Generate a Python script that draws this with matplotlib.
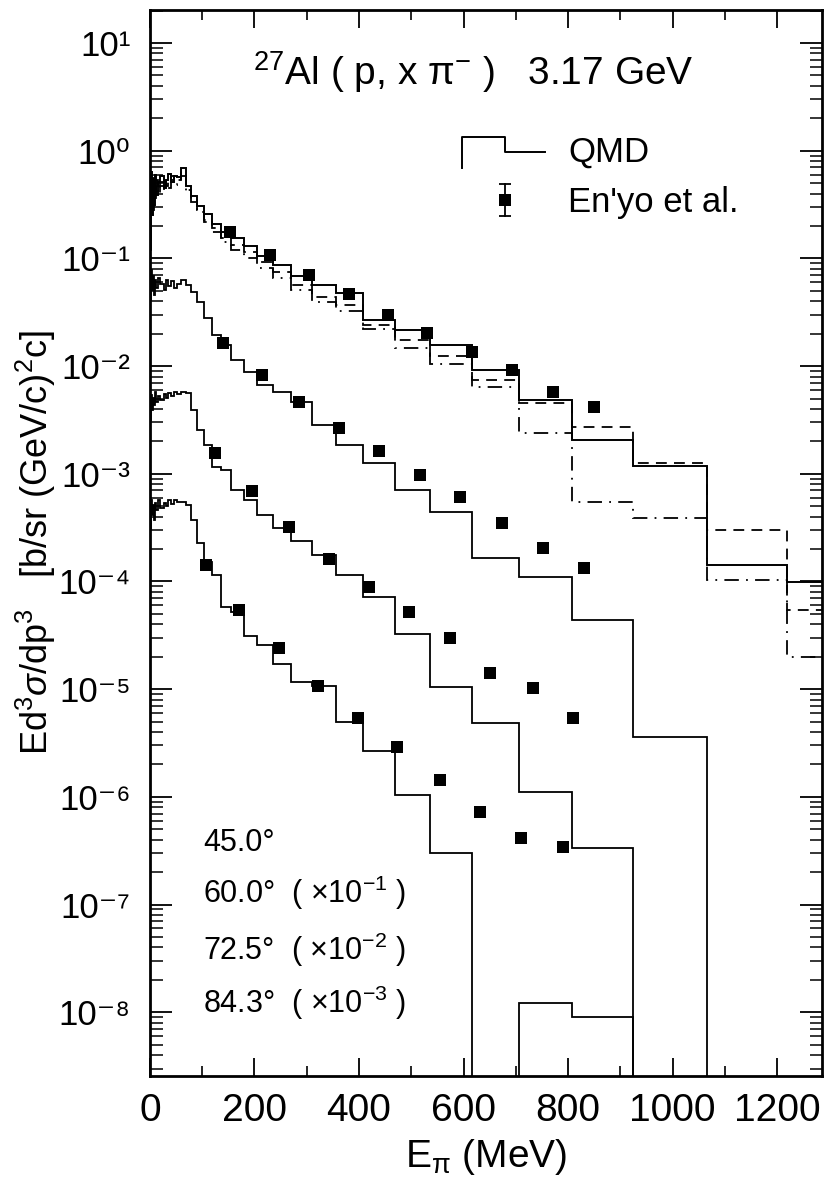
import matplotlib
matplotlib.use("Agg")
import matplotlib.pyplot as plt
from matplotlib.ticker import LogLocator, MultipleLocator, NullFormatter

plt.rcParams['font.family'] = ['Liberation Sans', 'DejaVu Sans']
plt.rcParams['mathtext.fontset'] = 'custom'
plt.rcParams['mathtext.rm'] = 'Liberation Sans'
plt.rcParams['mathtext.it'] = 'Liberation Sans:italic'
plt.rcParams['mathtext.bf'] = 'Liberation Sans:bold'
plt.rcParams['axes.unicode_minus'] = False

# QMD histogram bin edges (MeV)
EDGES = [0, 2, 4, 6, 8, 10, 12, 15, 20, 26, 30, 35, 40, 46, 52, 60, 69, 79, 90, 104,
         119, 136, 156, 179, 205, 236, 270, 310, 356, 408, 469, 536, 616, 706, 808, 924,
         1066, 1219, 1400]

# QMD, 45.0 deg (three variants: solid, dashed, dash-dot)
QMD_45 = [0.148, 0.634, 0.253, 0.535, 0.313, 0.595, 0.388, 0.512, 0.582, 0.450,
          0.535, 0.608, 0.512, 0.582, 0.570, 0.691, 0.470, 0.380, 0.307, 0.258,
          0.209, 0.176, 0.155, 0.130, 0.105, 0.0868, 0.0686, 0.0566, 0.0477, 0.0268,
          0.0216, 0.0157, 0.0092, 0.00484, 0.00206, 0.00118, 1.42e-4, 9.9e-5]
QMD_45_DASH = [0.184, 0.432, 0.349, 0.558, 0.388, 0.480, 0.535, 0.432, 0.512, 0.558,
               0.470, 0.535, 0.582, 0.512, 0.535, 0.634, 0.432, 0.349, 0.281, 0.227,
               0.191, 0.155, 0.133, 0.115, 0.0926, 0.0747, 0.0566, 0.0438, 0.0369, 0.0241,
               0.0175, 0.0124, 0.00743, 0.00454, 0.00272, 0.00126, 3.01e-4, 5.43e-5]
QMD_45_DASHDOT = [0.120, 0.349, 0.480, 0.281, 0.432, 0.364, 0.480, 0.388, 0.470, 0.432,
                  0.501, 0.450, 0.535, 0.480, 0.501, 0.582, 0.405, 0.334, 0.270, 0.218,
                  0.176, 0.142, 0.120, 0.101, 0.0814, 0.0658, 0.0509, 0.0394, 0.0325, 0.0221,
                  0.0147, 0.0105, 0.00639, 0.00239, 5.47e-4, 3.89e-4, 1.03e-4, 1.99e-5]

# QMD, 60.0 / 72.5 / 84.3 deg (already scaled by 1e-1, 1e-2, 1e-3)
QMD_60 = [0.0411, 0.078, 0.0509, 0.0686, 0.0457, 0.063, 0.0531, 0.0658, 0.0579, 0.0509,
          0.063, 0.0554, 0.0617, 0.0531, 0.0579, 0.063, 0.0566, 0.0488, 0.0394, 0.028,
          0.0194, 0.0157, 0.0114, 0.00881, 0.00668, 0.00575, 0.00464, 0.00284, 0.00185, 0.00126,
          7.07e-4, 4.42e-4, 1.65e-4, 1.10e-4, 4.39e-5, 3.6e-6, 0, 0]
QMD_72 = [0.00316, 0.00539, 0.00391, 0.00506, 0.00435, 0.00575, 0.00464, 0.00528, 0.00484, 0.00551,
          0.00506, 0.00563, 0.00528, 0.00575, 0.00551, 0.00575, 0.00563, 0.00391, 0.00255, 0.00185,
          0.00116, 0.00109, 7.07e-4, 5.71e-4, 4.14e-4, 3.14e-4, 2.38e-4, 1.76e-4, 1.15e-4, 7.18e-5,
          3.26e-5, 1.05e-5, 4.86e-6, 1.11e-6, 3.35e-7, 0, 0, 0]
QMD_84 = [3.01e-4, 5.71e-4, 4.14e-4, 5.13e-4, 3.72e-4, 5.36e-4, 4.61e-4, 5.71e-4, 4.81e-4, 5.36e-4,
          5.02e-4, 5.71e-4, 5.24e-4, 5.71e-4, 5.47e-4, 5.47e-4, 5.13e-4, 3.72e-4, 2.28e-4, 1.52e-4,
          1.15e-4, 5.8e-5, 5.21e-5, 3.12e-5, 2.57e-5, 1.71e-5, 1.17e-5, 1.07e-5, 4.96e-6, 2.67e-6,
          1.04e-6, 3.01e-7, 0, 1.22e-8, 9.05e-9, 0, 0, 0]

# En'yo et al. data
EXP_45_E = [153, 230, 304, 381, 456, 531, 616, 693, 771, 850]
EXP_45 = [0.176, 0.1075, 0.0701, 0.0467, 0.0298, 0.0203, 0.0135, 0.0092, 0.00575, 0.00417]
EXP_60_E = [140, 214, 285, 362, 438, 517, 593, 673, 752, 830]
EXP_60 = [0.0164, 0.00827, 0.00464, 0.00266, 0.00163, 9.75e-4, 6.09e-4, 3.49e-4, 2.05e-4, 1.33e-4]
EXP_72_E = [124, 195, 266, 343, 419, 496, 574, 651, 733, 810]
EXP_72 = [1.56e-3, 6.92e-4, 3.21e-4, 1.62e-4, 8.89e-5, 5.21e-5, 2.99e-5, 1.41e-5, 1.03e-5, 5.40e-6]
EXP_84_E = [107, 170, 247, 322, 398, 473, 555, 632, 710, 790]
EXP_84 = [1.42e-4, 5.43e-5, 2.41e-5, 1.07e-5, 5.40e-6, 2.91e-6, 1.44e-6, 7.24e-7, 4.15e-7, 3.43e-7]

Y_DECADES = [1e-8, 1e-7, 1e-6, 1e-5, 1e-4, 1e-3, 1e-2, 1e-1, 1e0, 1e1]
Y_TICK_LABELS = ['10⁻⁸', '10⁻⁷', '10⁻⁶', '10⁻⁵', '10⁻⁴', '10⁻³', '10⁻²', '10⁻¹', '10⁰', '10¹']
ANGLE_LABELS = ['45.0°', r'60.0°  ( $\times$10$^{-1}$ )',
                r'72.5°  ( $\times$10$^{-2}$ )', r'84.3°  ( $\times$10$^{-3}$ )']

fig = plt.figure(figsize=(8.24, 11.82), dpi=100)
ax = fig.add_axes([0.182, 0.0897, 0.8156, 0.9018])
ax.set_yscale('log')

# histograms
ax.stairs(QMD_45, EDGES, baseline=None, color='k', lw=1.4)
ax.stairs(QMD_45_DASH, EDGES, baseline=None, color='k', lw=1.3, linestyle=(0, (6, 4)))
ax.stairs(QMD_45_DASHDOT, EDGES, baseline=None, color='k', lw=1.3, linestyle=(0, (8, 4, 1, 4)))
for vals in (QMD_60, QMD_72, QMD_84):
    ax.stairs(vals, EDGES, baseline=None, color='k', lw=1.3)

# data points
for xs, ys in ((EXP_45_E, EXP_45), (EXP_60_E, EXP_60), (EXP_72_E, EXP_72), (EXP_84_E, EXP_84)):
    ax.plot(xs, ys, 's', color='k', ms=9, mew=0)

ax.set_xlim(0, 1286)
ax.set_ylim(2.56e-9, 20.25)

# ticks
ax.xaxis.set_major_locator(MultipleLocator(200))
ax.xaxis.set_minor_locator(MultipleLocator(100))
ax.set_yticks(Y_DECADES, Y_TICK_LABELS)
ax.yaxis.set_minor_locator(LogLocator(base=10, subs=range(2, 10), numticks=30))
ax.yaxis.set_minor_formatter(NullFormatter())
ax.tick_params(which='both', direction='in', top=True, right=True)
ax.tick_params(axis='x', which='major', length=13, width=1.3, pad=12, labelsize=28)
ax.tick_params(axis='x', which='minor', length=7, width=1.2)
ax.tick_params(axis='y', which='major', length=16, width=1.3, pad=14, labelsize=25)
ax.tick_params(axis='y', which='minor', length=9, width=1.1)
for sp in ax.spines.values():
    sp.set_linewidth(2.0)

ax.set_xlabel(r'E$_{\mathrm{π}}$ (MeV)', fontsize=28, labelpad=6)
fig.text(36 / 824, 1 - 543 / 1182, r'Ed$^{3}\sigma$/dp$^{3}$   [b/sr (GeV/c)$^{2}$c]',
         rotation=90, ha='center', va='center', fontsize=26)

# title inside the frame
ax.text(0.153, 0.942, '$^{27}$Al ( p, x π$^{-}$ )   3.17 GeV', transform=ax.transAxes,
        fontsize=28, ha='left', va='center')

# hand-drawn legend
ax.plot([0.464, 0.464, 0.528, 0.528, 0.588], [0.852, 0.881, 0.881, 0.867, 0.867],
        color='k', lw=1.4, transform=ax.transAxes)
ax.text(0.622, 0.867, 'QMD', transform=ax.transAxes, fontsize=25, va='center')
ax.plot([0.528], [0.822], 's', color='k', ms=9, mew=0, transform=ax.transAxes)
ax.plot([0.528, 0.528], [0.807, 0.837], color='k', lw=1.3, transform=ax.transAxes)
ax.plot([0.528, 0.528], [0.807, 0.837], '_', color='k', ms=8, mew=1.3, transform=ax.transAxes)
ax.text(0.622, 0.819, "En'yo et al.", transform=ax.transAxes, fontsize=25, va='center')

# angle labels
for lab, yy in zip(ANGLE_LABELS, [0.219, 0.172, 0.118, 0.069]):
    ax.text(0.079, yy, lab, transform=ax.transAxes, fontsize=22, va='center')

fig.savefig('out.png', dpi=100)
